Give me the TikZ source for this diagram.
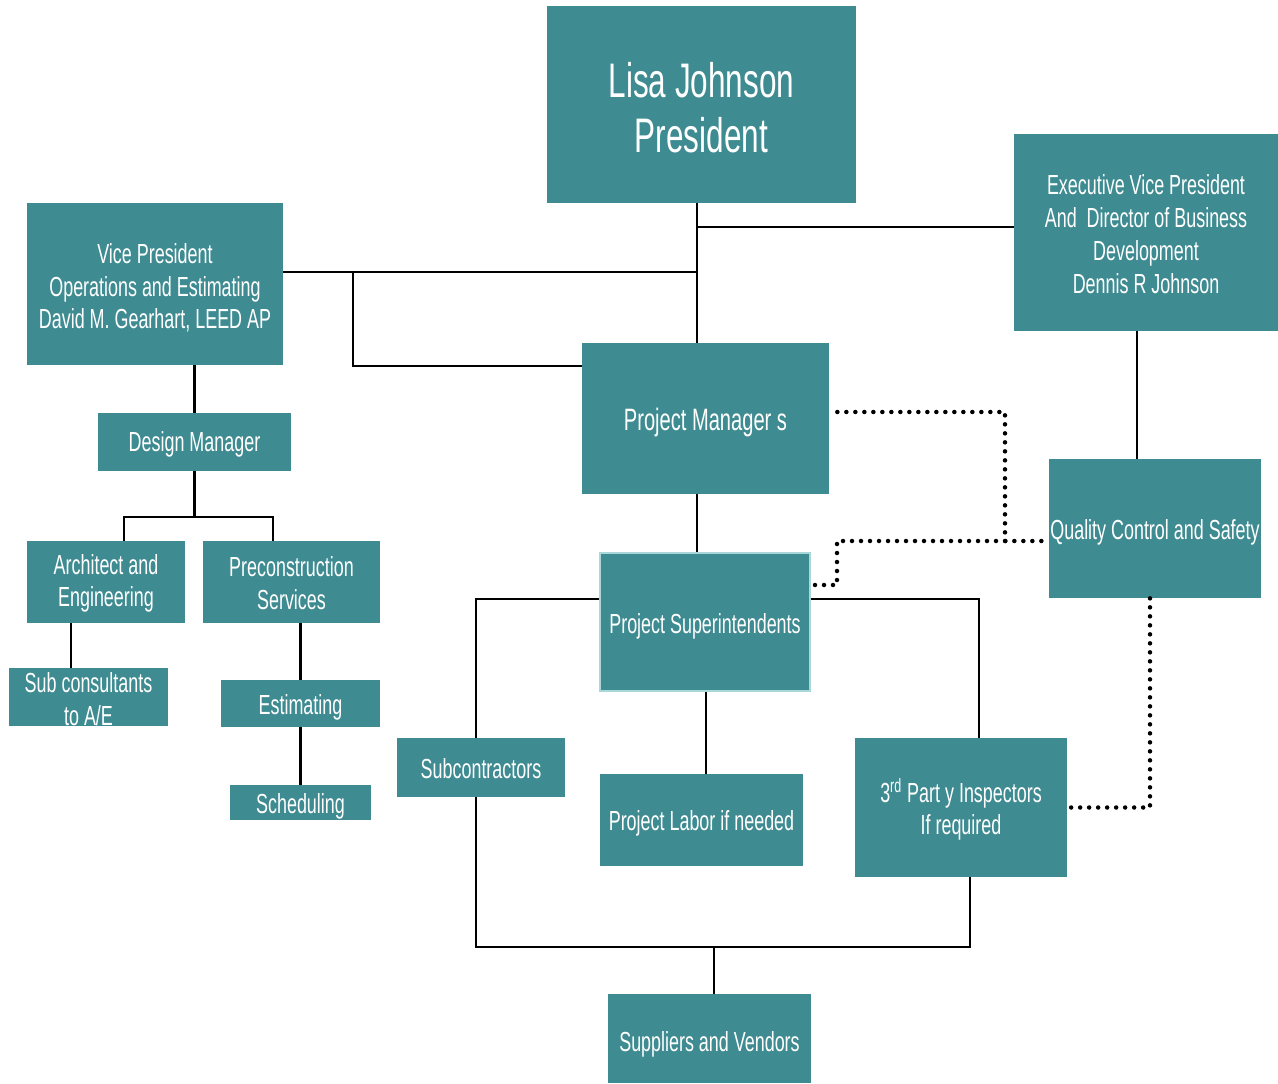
\documentclass[tikz,border=0pt]{standalone}
\usepackage{fontspec}
\setmainfont{Liberation Sans}[FakeStretch=0.65]
\definecolor{boxteal}{RGB}{62,139,145}
\definecolor{edgeteal}{RGB}{170,215,218}
\newlength\unitpx
\setlength\unitpx{0.02cm}
% pushes the text of a box down a little
\newcommand\lift[1]{\rule{0pt}{\dimexpr0.75em+#1\unitpx\relax}}
\tikzset{
  orgbox/.style={fill=boxteal, text=white, inner sep=0pt, align=center,
    font=\fontsize{15.7}{18.7}\selectfont},
  link/.style={draw=black, line width=2.3\unitpx},
  dots/.style={draw=black, line width=4.5\unitpx, line cap=round, dash pattern=on 0pt off 9\unitpx},
}
\begin{document}
\begin{tikzpicture}[x=0.02cm, y=-0.02cm]
  \useasboundingbox (0,0) rectangle (1278,1084);
  % boxes
  \node[orgbox, minimum width=309\unitpx, minimum height=197\unitpx,
    font=\fontsize{27.6}{31.2}\selectfont] (pres) at (701.5,104.5) {\lift{5}Lisa Johnson\\President};
  \node[orgbox, minimum width=264\unitpx, minimum height=197\unitpx] (evp) at (1146,232.5)
    {\lift{3}Executive Vice President\\And\ \ Director of Business\\Development\\Dennis R Johnson};
  \node[orgbox, minimum width=256\unitpx, minimum height=162\unitpx] (vp) at (155,284)
    {\lift{7}Vice President\\Operations and Estimating\\David M. Gearhart, LEED AP};
  \node[orgbox, minimum width=193\unitpx, minimum height=58\unitpx] (dm) at (194.5,442) {\lift{5}Design Manager};
  \node[orgbox, minimum width=158\unitpx, minimum height=82\unitpx] (ae) at (106,582) {\lift{2}Architect and\\Engineering};
  \node[orgbox, minimum width=177\unitpx, minimum height=82\unitpx] (pre) at (291.5,582) {\lift{1}Preconstruction\\Services};
  \node[orgbox, minimum width=159\unitpx, minimum height=58\unitpx] (sub) at (88.5,697) {\lift{4}Sub consultants\\to A/E};
  \node[orgbox, minimum width=159\unitpx, minimum height=47\unitpx] (est) at (300.5,703.5) {\lift{7}Estimating};
  \node[orgbox, minimum width=141\unitpx, minimum height=35\unitpx] (sch) at (300.5,802.5) {\lift{7}Scheduling};
  \node[orgbox, minimum width=247\unitpx, minimum height=151\unitpx,
    font=\fontsize{17.6}{20}\selectfont] (pm) at (705.5,418.5) {\lift{7}Project Manager s};
  \node[orgbox, draw=edgeteal, line width=2\unitpx, minimum width=210\unitpx, minimum height=138\unitpx] (ps) at (705,622) {\lift{8}Project Superintendents};
  \node[orgbox, minimum width=212\unitpx, minimum height=139\unitpx] (qc) at (1155,528.5) {\lift{8}Quality Control and Safety};
  \node[orgbox, minimum width=168\unitpx, minimum height=59\unitpx] (subc) at (481,767.5) {\lift{2}Subcontractors};
  \node[orgbox, minimum width=203\unitpx, minimum height=92\unitpx] (lab) at (701.5,820) {\lift{7}Project Labor if needed};
  \node[orgbox, minimum width=212\unitpx, minimum height=139\unitpx] (insp) at (961,807.5)
    {\lift{7}3\textsuperscript{rd} Part y Inspectors\\If required};
  \node[orgbox, minimum width=203\unitpx, minimum height=89\unitpx] (sup) at (709.5,1038.5) {\lift{11}Suppliers and Vendors};
  % junction points
  \coordinate (spine) at (697,0);
  \coordinate (evpj) at (697,227);
  \coordinate (vpj) at (697,272);
  \coordinate (vpk) at (353,272);
  \coordinate (pmj) at (353,366);
  \coordinate (aej) at (124,517);
  \coordinate (prj) at (273,517);
  \coordinate (pstop) at (0,599);
  \coordinate (bus) at (714,947);
  \coordinate (qcj) at (1005,541);
  \coordinate (psj) at (837,541);
  % solid lines
  \draw[link] (pres.south -| spine) -- (pm.north -| spine);
  \draw[link] (evpj) -- (evpj -| evp.west);
  \draw[link] (vp.east |- vpj) -- (vpj);
  \draw[link] (vpk) -- (pmj) -- (pmj -| pm.west);
  \draw[link] (dm.north) -- (dm.north |- vp.south);
  \draw[link] (dm.south) -- (dm.south |- aej);
  \draw[link] (aej |- ae.north) -- (aej) -- (prj) -- (prj |- pre.north);
  \draw[link] ([xshift=-35\unitpx]ae.south) -- ([xshift=-35\unitpx]ae.south |- sub.north);
  \draw[link] (est.north) -- (est.north |- pre.south);
  \draw[link] (est.south) -- (sch.north);
  \draw[link] ([xshift=-18\unitpx]qc.north) -- ([xshift=-18\unitpx]qc.north |- evp.south);
  \draw[link] (pm.south -| spine) -- (ps.north -| spine);
  \draw[link] (ps.west |- pstop) -| ([xshift=-5\unitpx]subc.north);
  \draw[link] (ps.east |- pstop) -| ([xshift=18\unitpx]insp.north);
  \draw[link] ([xshift=1\unitpx]ps.south) -- ([xshift=1\unitpx]ps.south |- lab.north);
  \draw[link] ([xshift=-5\unitpx]subc.south) |- (bus) -| ([xshift=9\unitpx]insp.south);
  \draw[link] (bus) -- (bus |- sup.north);
  % dotted lines
  \draw[dots] ([shift={(8,-6.5)}]pm.east) -| (qcj) -- (qcj -| qc.west);
  \draw[dots] (qcj) -- (psj) |- ([yshift=37\unitpx]ps.east);
  \draw[dots] ([xshift=-5\unitpx]qc.south) |- (insp.east);
\end{tikzpicture}
\end{document}
